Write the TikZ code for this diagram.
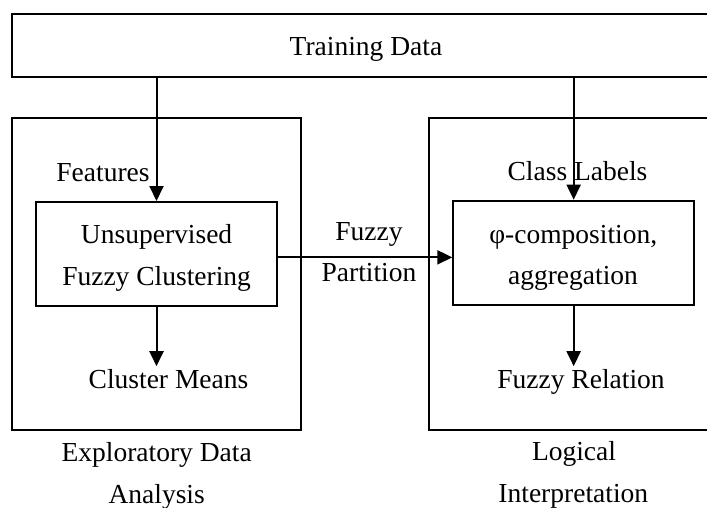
\documentclass[tikz,border=0pt]{standalone}
\usepackage{fontspec}
\setmainfont{Liberation Serif}
\usetikzlibrary{arrows.meta}

\begin{document}
\begin{tikzpicture}[x=1pt,y=-1pt,
  every node/.style={font=\fontsize{27.5}{41.5}\selectfont},
  box/.style={draw, line width=2pt, inner sep=0pt},
  lbl/.style={inner xsep=0pt, inner ysep=2.5pt, anchor=base},
  arr/.style={line width=2pt, -{Triangle[width=14pt,length=15pt]}},
]
\useasboundingbox (0,0) rectangle (707,508);
\clip (0,0) rectangle (707,508);

% frames
\node[box, minimum width=708pt, minimum height=62.7pt] (data) at (366,45.3) {};
\node[box, minimum width=289pt, minimum height=312.3pt] (eda) at (156.5,273.85) {};
\node[box, minimum width=291pt, minimum height=311.8pt] (logi) at (574.5,273.6) {};
\node[box, minimum width=241pt, minimum height=103.7pt] (clus) at (156.5,253.85) {};
\node[box, minimum width=240.7pt, minimum height=104.3pt] (comp) at (573.65,252.85) {};

% texts
\node[lbl] (datatxt) at (366,56) {Training Data};
\node[lbl] (feat) at (103,181.5) {Features};
\node[lbl] (cls) at (577.5,180) {Class Labels};
\node[lbl] (clusa) at (156.6,243.5) {Unsupervised};
\node[lbl] (clusb) at (156.6,285.5) {Fuzzy Clustering};
\node[lbl] (compa) at (573.3,243.3) {φ-composition,};
\node[lbl] (compb) at (573,284.5) {aggregation};
\node[lbl] (fpa) at (369,240.7) {Fuzzy};
\node[lbl] (fpb) at (369,281.7) {Partition};
\node[lbl] (cm) at (168.5,388) {Cluster Means};
\node[lbl] (fr) at (581,388) {Fuzzy Relation};
\node[lbl] (edaa) at (156.7,461.5) {Exploratory Data};
\node[lbl] (edab) at (156.7,503) {Analysis};
\node[lbl] (logia) at (574,460.5) {Logical};
\node[lbl] (logib) at (573.3,502) {Interpretation};

% connectors
\draw[arr] (data.south -| clus.north) -- (clus.north);
\draw[arr] (data.south -| comp.north) -- (comp.north);
\draw[arr] ([yshift=-3.5pt]clus.east) -- ([yshift=-3.5pt]clus.east -| comp.west);
\draw[arr] (clus.south) -- (clus.south |- cm.north);
\draw[arr] (comp.south) -- (comp.south |- fr.north);
\end{tikzpicture}
\end{document}
